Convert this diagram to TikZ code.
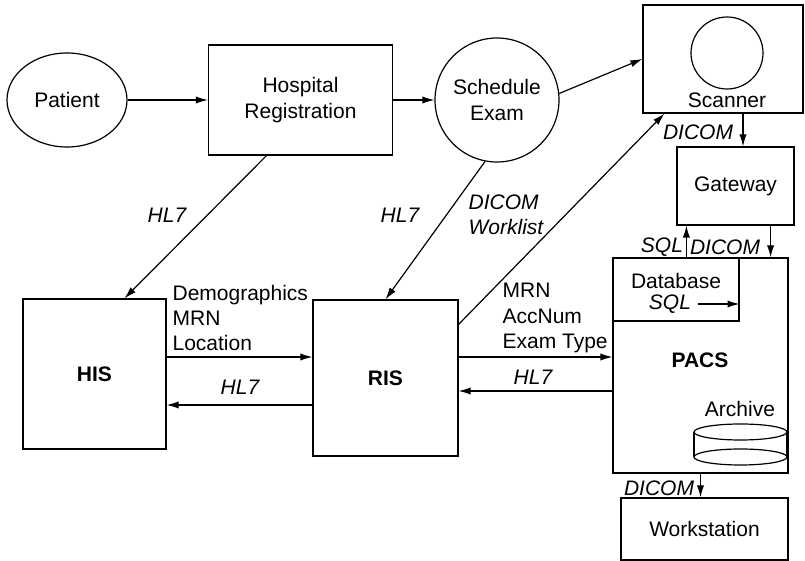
\documentclass[tikz,border=0pt]{standalone}
\usepackage{fontspec}
\setmainfont{Liberation Sans}
\usetikzlibrary{positioning, arrows.meta, shapes.geometric}

\newcommand{\figfont}{\fontsize{10.5}{12.6}\selectfont}

\begin{document}
\begin{tikzpicture}[
        x=0.5pt, y=-0.5pt,
        font=\figfont,
        line width=0.6pt,
        sys/.style={draw, rectangle, inner sep=0pt, align=center},
        sysb/.style={sys, font=\figfont\bfseries},
        txt/.style={inner sep=0pt, align=center},
        proto/.style={inner sep=0pt, align=left, font=\figfont\itshape},
        flow/.style={-{Latex[length=6pt, width=3.6pt]}}
    ]
    \useasboundingbox (0,0) rectangle (805,561);

    % Patient
    \node[draw, ellipse, minimum width=60pt, minimum height=47pt,
          inner sep=0pt] (pat) at (67,100) {Patient};

    % Hospital Registration
    \node[sys, minimum width=92pt, minimum height=55pt] (reg)
        at (300.5,100) {Hospital\\Registration};

    % Schedule Exam
    \node[draw, circle, minimum size=62pt, inner sep=0pt,
          align=center] (sched) at (497,100) {Schedule\\Exam};

    % Scanner
    \node[sys, minimum width=80pt, minimum height=54pt] (scan)
        at (723,59) {};
    \node[draw, circle, minimum size=36pt, inner sep=0pt] (gantry)
        at (727,53) {};
    \node[txt] (scanlbl) at (727,100) {Scanner};

    % Gateway
    \node[sys, minimum width=58.5pt, minimum height=39pt] (gw)
        at (735.5,186) {Gateway};

    % PACS
    \node[sys, minimum width=87.5pt, minimum height=107.5pt] (pacs)
        at (700.5,365.5) {};
    \node[txt, font=\figfont\bfseries] (pacslbl) at (700,360) {PACS};

    % Database
    \node[sys, minimum width=63pt, minimum height=31.5pt] (db)
        at (676,289.5) {};
    \node[txt] (dblbl) at (676,281) {Database};
    \node[proto] (dbsql) at (670,304) {SQL};

    % Archive
    \node[txt] (arclbl) at (740,409) {Archive};
    \draw (740.5,432) ellipse [x radius=23.25pt, y radius=4pt];
    \draw (740.5,457) ellipse [x radius=23.25pt, y radius=4pt];
    \draw (694,432) -- (694,457) (787,432) -- (787,457);

    % Workstation
    \node[sys, minimum width=83.5pt, minimum height=31pt] (ws)
        at (704.5,529) {Workstation};

    % HIS
    \node[sysb, minimum width=71.5pt, minimum height=75pt] (his)
        at (94.5,374) {HIS};

    % RIS
    \node[sysb, minimum width=72.5pt, minimum height=78pt] (ris)
        at (385.5,378) {RIS};

    % top row
    \draw[flow] (pat) -- (reg);
    \draw[flow] (reg) -- (sched);
    \draw[flow] (sched.6) -- (scan.west);

    % scanner, gateway, database
    \draw[flow] ([xshift=3.75pt]gw.north |- scan.south) -- ([xshift=3.75pt]gw.north);
    \node[proto] (dic1) at (698,132) {DICOM};
    \draw[flow] ([xshift=5pt]gw.south west |- db.north) -- ([xshift=5pt]gw.south west);
    \node[proto] (sqlup) at (662,247) {SQL};
    \draw[flow] ([xshift=-12pt]gw.south east) -- ([xshift=-12pt]gw.south east |- pacs.north);
    \node[proto] (dic2) at (725,247) {DICOM};
    \draw[flow] ([xshift=3pt]dbsql.east) -- (dbsql.east -| db.east);

    % PACS to workstation
    \draw[flow] (pacs.south) -- (pacs.south |- ws.north);
    \node[proto] (dic3) at (659,488) {DICOM};

    % down to HIS and RIS
    \draw[flow] ([xshift=-17pt]reg.south) -- ([xshift=15pt]his.north);
    \node[proto] (hl7a) at (167,215) {HL7};
    \draw[flow] (sched.259) -- (ris.north);
    \node[proto] (hl7b) at (400,215) {HL7};
    \node[proto, anchor=west] (wl) at (468,215) {DICOM\\Worklist};
    \draw[flow] ([yshift=-12.5pt]ris.north east) -- ([xshift=11pt]scan.south west);

    % HIS <-> RIS
    \draw[flow] ([yshift=8.5pt]his.east) -- ([yshift=8.5pt]his.east -| ris.west);
    \node[txt, align=left, anchor=west] (demo) at (172,318)
        {Demographics\\MRN\\Location};
    \draw[flow] ([yshift=-15.5pt]his.east -| ris.west) -- ([yshift=-15.5pt]his.east);
    \node[proto] (hl7c) at (240,387) {HL7};

    % RIS <-> PACS
    \draw[flow] ([yshift=10.5pt]ris.east) -- ([yshift=10.5pt]ris.east -| pacs.west);
    \node[txt, align=left, anchor=west] (acc) at (502,318)
        {MRN\\AccNum\\Exam Type};
    \draw[flow] ([yshift=-6.5pt]ris.east -| pacs.west) -- ([yshift=-6.5pt]ris.east);
    \node[proto] (hl7d) at (533,377) {HL7};

\end{tikzpicture}
\end{document}
